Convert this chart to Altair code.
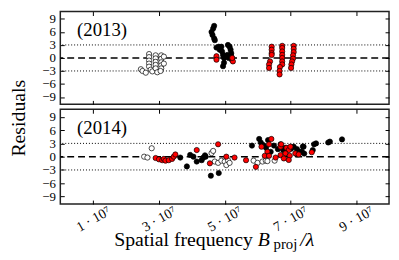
import altair as alt
import pandas as pd

FONT = "Liberation Serif"
W = 333
H1, H2 = 94, 96

x_ticks = [1, 3, 5, 7, 9]          # in units of 10^7
y_ticks = [-9, -6, -3, 0, 3, 6, 9]

# ---------- 2013 ----------
t_open_x = [2.45, 2.5, 2.6, 2.7, 2.7, 2.7, 2.7, 2.7, 2.75, 2.8, 2.9, 2.9, 2.9, 2.9, 2.9, 2.95,
            3.07, 3.07, 3.07, 3.07, 3.07, 3.05, 3.15, 3.15]
t_open_y = [-2.6, -3.0, -3.4, 0.9, 0.2, -0.6, -1.3, -2.0, -2.7, -3.1, 0.6, -0.1, -0.9, -1.6, -2.4, -3.3,
            0.6, -0.2, -1.0, -1.7, -2.4, -3.0, 0.3, -1.3]
t_black_x = [4.68, 4.65, 4.6, 4.63, 4.68, 4.7, 4.75, 4.82, 4.9, 4.85, 4.92, 4.95, 4.98, 4.98, 4.95,
             5.1, 5.15, 5.18, 5.2, 5.2, 5.22, 5.08, 5.12]
t_black_y = [7.4, 6.8, 6.0, 5.3, 4.5, 4.1, 2.4, 2.6, 2.6, 1.9, 1.5, 0.7, 0.0, -1.1, -1.9,
             3.0, 2.6, 1.9, 1.1, 0.4, -0.4, 0.7, 0.0]
t_red_x = [4.75, 4.75, 5.25, 5.23,
           6.43, 6.43, 6.43, 6.43, 6.38, 6.35, 6.35,
           6.75, 6.75, 6.75, 6.75, 6.75, 6.75, 6.75, 6.68, 6.67, 6.67,
           7.1, 7.1, 7.1, 7.08, 7.08, 7.05, 7.03, 7.02]
t_red_y = [0.4, -0.4, -0.8, 0.0,
           2.6, 1.9, 1.1, 0.7, -0.8, -1.5, -2.3,
           2.8, 2.3, 1.5, 0.7, 0.0, -0.8, -1.5, -2.1, -3.0, -3.8,
           2.8, 2.1, 1.35, 0.6, -0.15, -0.8, -1.5, -2.3]

# ---------- 2014 ----------
b_open_x = [2.55, 2.65, 2.78, 4.6, 4.65, 4.7, 4.8, 4.9, 5.0, 5.05, 5.1, 5.15,
            5.88, 6.0, 6.15, 6.25, 6.3, 6.52]
b_open_y = [0.0, -0.2, 1.9, 0.8, 1.3, -1.1, -1.4, -0.9, -1.1, -1.9, -0.8, -1.4,
            -0.9, -1.4, -1.1, -0.9, -1.0, -0.9]
b_black_x = [3.65, 3.85, 3.95, 4.05, 4.15, 4.3, 4.35, 4.4, 4.42, 4.58, 4.82,
             5.83, 6.05, 6.1, 6.18, 6.26, 6.32, 6.4, 6.62, 6.78, 7.1, 7.2, 7.3, 7.4, 7.35,
             6.5, 6.85, 6.7, 7.02, 7.2, 7.38, 7.42, 7.68, 7.72, 7.78, 8.15, 8.2, 8.57]
b_black_y = [-0.2, -2.2, 0.4, 0.0, -1.1, -0.8, -0.2, 0.3, 0.0, -4.3, -3.7,
             2.5, 4.0, 3.2, 2.6, 2.0, 3.75, 1.1, 1.7, 1.5, 2.25, 1.7, 1.1, 2.25, 1.1,
             2.5, 2.0, 2.8, 1.8, 0.5, 2.3, 0.7, 1.5, 2.8, 3.0, 3.2, 3.4, 3.9]
b_red_x = [2.9, 3.0, 3.1, 3.15, 3.2, 3.3, 3.4, 3.45, 3.5, 4.15, 4.55, 4.8, 5.05, 5.3, 5.65, 5.95,
           6.12, 6.35, 6.42, 6.3, 6.22, 6.35, 6.7, 6.72, 6.88, 6.95, 7.0, 6.7, 6.85, 6.98,
           7.15, 7.25, 6.8, 6.95, 6.55, 7.65]
b_red_y = [-0.3, -0.6, -0.8, -0.5, -0.9, -0.8, -0.5, 0.0, 0.5, 1.5, -1.5, 2.8, 0.0, -0.2, -0.8, -2.3,
           2.25, 2.8, 4.0, 1.1, 0.2, 0.2, 2.25, 2.8, 2.0, 1.5, 2.25, 0.35, 0.75, 0.2,
           0.75, 0.5, -0.4, -0.75, -0.2, 1.0]

zero_line = [0]
sigma_lines = [-3, 3]


def panel(ox, oy, bx, by, rx, ry, label, height, bottom):
    xs = alt.Scale(domain=[0, 10], nice=False, zero=False)
    ys = alt.Scale(domain=[-10.7, 10.7], nice=False, zero=False)
    common = dict(grid=False, title=None, domain=False, tickSize=4, offset=-4,
                  tickColor="black", tickWidth=1)
    if bottom:
        xb = alt.Axis(values=x_ticks, labelExpr="datum.value + ' · 10⁷'", labelAngle=330,
                      labelAlign="center", labelBaseline="middle", labelPadding=15,
                      labelOverlap=False, labelFont=FONT, labelFontSize=14,
                      labelColor="black", **common)
    else:
        xb = alt.Axis(values=x_ticks, labels=False, **common)
    xt = alt.Axis(orient="top", values=x_ticks, labels=False, **common)
    yl = alt.Axis(values=y_ticks, format="d", labelPadding=5, labelFont=FONT,
                  labelFontSize=13, labelColor="black", labelOverlap=False, **common)
    yr = alt.Axis(orient="right", values=y_ticks, labels=False, **common)

    rules0 = alt.Chart(pd.DataFrame({"y": zero_line})).mark_rule(
        color="black", strokeWidth=1.5, strokeDash=[7, 4]
    ).encode(y=alt.Y("y:Q", scale=ys, axis=None))
    rules3 = alt.Chart(pd.DataFrame({"y": sigma_lines})).mark_rule(
        color="black", strokeWidth=1, strokeDash=[1, 2]
    ).encode(y=alt.Y("y:Q", scale=ys, axis=None))

    opn = alt.Chart(pd.DataFrame({"x": ox, "y": oy})).mark_circle(
        size=28, fill="white", stroke="black", strokeWidth=0.7, opacity=1
    ).encode(x=alt.X("x:Q", scale=xs, axis=xb), y=alt.Y("y:Q", scale=ys, axis=yl))
    blk = alt.Chart(pd.DataFrame({"x": bx, "y": by})).mark_circle(
        size=28, fill="black", stroke="black", strokeWidth=0.7, opacity=1
    ).encode(x=alt.X("x:Q", scale=xs, axis=xt), y=alt.Y("y:Q", scale=ys, axis=yr))
    red = alt.Chart(pd.DataFrame({"x": rx, "y": ry})).mark_circle(
        size=28, fill="#ff0000", stroke="black", strokeWidth=0.7, opacity=1
    ).encode(x=alt.X("x:Q", scale=xs, axis=None), y=alt.Y("y:Q", scale=ys, axis=None))

    one = pd.DataFrame({"a": [0]})
    lab = alt.Chart(one).mark_text(
        text=label, align="left", baseline="alphabetic", font=FONT, fontSize=19, color="black"
    ).encode(x=alt.value(17), y=alt.value(25))

    layers = [rules0, rules3, opn, blk, red, lab]

    if not bottom:
        ylab = alt.Chart(one).mark_text(
            text="Residuals", angle=270, align="center", baseline="middle",
            font=FONT, fontSize=20, color="black"
        ).encode(x=alt.value(-42), y=alt.value(108))
        layers.append(ylab)
    else:
        t1 = alt.Chart(one).mark_text(
            text="Spatial frequency", align="right", baseline="alphabetic",
            font=FONT, fontSize=20, color="black"
        ).encode(x=alt.value(195), y=alt.value(139))
        t2 = alt.Chart(one).mark_text(
            text="B", align="left", baseline="alphabetic", font=FONT, fontSize=20,
            fontStyle="italic", color="black"
        ).encode(x=alt.value(200), y=alt.value(139))
        t3 = alt.Chart(one).mark_text(
            text="proj", align="left", baseline="alphabetic", font=FONT, fontSize=15,
            color="black"
        ).encode(x=alt.value(216), y=alt.value(142))
        t4 = alt.Chart(one).mark_text(
            text="/λ", align="left", baseline="alphabetic", font=FONT, fontSize=20,
            fontStyle="italic", color="black"
        ).encode(x=alt.value(243), y=alt.value(139))
        layers += [t1, t2, t3, t4]

    return alt.layer(*layers).resolve_axis(x="independent", y="independent").properties(
        width=W, height=height
    )


top = panel(t_open_x, t_open_y, t_black_x, t_black_y, t_red_x, t_red_y, "(2013)", H1, False)
bot = panel(b_open_x, b_open_y, b_black_x, b_black_y, b_red_x, b_red_y, "(2014)", H2, True)

chart = alt.vconcat(top, bot, spacing=5, bounds="flush", padding=0).configure_view(
    stroke="#222222", strokeWidth=1.5
)

chart.save("out.html", embed_options={"renderer": "svg", "actions": False})
